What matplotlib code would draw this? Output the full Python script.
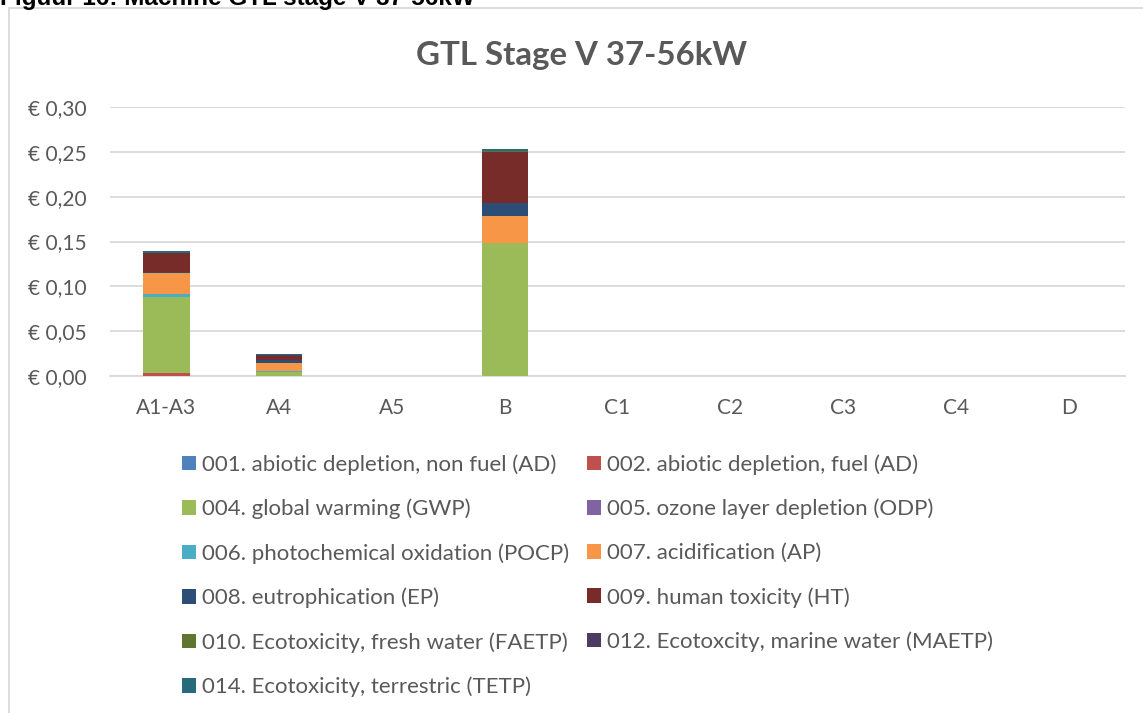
import matplotlib
matplotlib.use('Agg')
import matplotlib.pyplot as plt
from matplotlib.patches import Patch, Rectangle
import numpy as np

categories = ['A1-A3', 'A4', 'A5', 'B', 'C1', 'C2', 'C3', 'C4', 'D']

series_names = [
    '001. abiotic depletion, non fuel (AD)',
    '002. abiotic depletion, fuel (AD)',
    '004. global warming (GWP)',
    '005. ozone layer depletion (ODP)',
    '006. photochemical oxidation (POCP)',
    '007. acidification (AP)',
    '008. eutrophication (EP)',
    '009. human toxicity (HT)',
    '010. Ecotoxicity, fresh water (FAETP)',
    '012. Ecotoxcity, marine water (MAETP)',
    '014. Ecotoxicity, terrestric (TETP)',
]

abiotic_non_fuel = [0.0003, 0.0, 0, 0.0, 0, 0, 0, 0, 0]
abiotic_fuel = [0.003, 0.0005, 0, 0.0, 0, 0, 0, 0, 0]
global_warming = [0.085, 0.0045, 0, 0.148, 0, 0, 0, 0, 0]
ozone = [0.0, 0.0, 0, 0.0, 0, 0, 0, 0, 0]
photochem = [0.003, 0.0003, 0, 0.0005, 0, 0, 0, 0, 0]
acidification = [0.0235, 0.009, 0, 0.030, 0, 0, 0, 0, 0]
eutrophication = [0.0015, 0.003, 0, 0.0145, 0, 0, 0, 0, 0]
human_tox = [0.0205, 0.005, 0, 0.057, 0, 0, 0, 0, 0]
eco_fresh = [0.0003, 0.0002, 0, 0.001, 0, 0, 0, 0, 0]
eco_marine = [0.0005, 0.0005, 0, 0.0003, 0, 0, 0, 0, 0]
eco_terr = [0.0015, 0.0015, 0, 0.002, 0, 0, 0, 0, 0]

series_values = [abiotic_non_fuel, abiotic_fuel, global_warming, ozone, photochem,
                 acidification, eutrophication, human_tox, eco_fresh, eco_marine, eco_terr]

colors = ['#4F81BD', '#C0504D', '#9BBB59', '#8064A2', '#4BACC6', '#F79646',
          '#2C4D75', '#772C2A', '#5F7530', '#4D3B62', '#276A7C']

yticks = [0.0, 0.05, 0.10, 0.15, 0.20, 0.25, 0.30]
ytick_labels = ['€ 0,00', '€ 0,05', '€ 0,10', '€ 0,15', '€ 0,20', '€ 0,25', '€ 0,30']

TXT = '#595959'
GRID = '#D9D9D9'
W, H = 1143, 713

fig = plt.figure(figsize=(W / 100, H / 100), dpi=100)

# chart frame (partly cut off at right and bottom)
fig.patches.append(Rectangle((9 / W, -0.05), 1.2, 1 - 8 / H + 0.05, transform=fig.transFigure,
                             fill=False, edgecolor=GRID, lw=1.3))

# caption, clipped at top of the page
fig.text(0.0, 1 - 5 / H, 'Figuur 16: Machine GTL stage V 37-56kW', fontsize=17.5,
         fontweight='bold', family='Liberation Sans', va='baseline', ha='left')

ax = fig.add_axes([110 / W, 1 - 376 / H, 1015 / W, 269 / H])
x = np.arange(len(categories))
bottom = np.zeros(len(categories))
for vals, c in zip(series_values, colors):
    ax.bar(x, vals, width=0.41, bottom=bottom, color=c, zorder=3)
    bottom += np.array(vals)

ax.set_xlim(-0.5, len(categories) - 0.5)
ax.set_ylim(0, 0.30)
ax.set_yticks(yticks)
ax.set_yticklabels(ytick_labels)
ax.set_xticks(x)
ax.set_xticklabels(categories)
ax.tick_params(length=0, colors=TXT, labelsize=15)
ax.tick_params(axis='x', pad=16)
ax.tick_params(axis='y', pad=16.5)
for lab in ax.get_xticklabels() + ax.get_yticklabels():
    lab.set_family('Lato')
ax.yaxis.grid(True, color=GRID, lw=1.3, zorder=0)
for s in ax.spines.values():
    s.set_visible(False)
ax.spines['bottom'].set_visible(True)
ax.spines['bottom'].set_color(GRID)
ax.spines['bottom'].set_linewidth(1.3)

fig.text(582 / W, 1 - 55 / H, 'GTL Stage V 37-56kW', ha='center', va='center',
         fontsize=23.8, fontweight='bold', color=TXT, family='Lato')

# legend in row-major order
handles = [Patch(facecolor=c) for c in colors]
order = [0, 2, 4, 6, 8, 10, 1, 3, 5, 7, 9]
leg = fig.legend([handles[i] for i in order], [series_names[i] for i in order],
                 ncol=2, frameon=False, loc='upper left',
                 bbox_to_anchor=(171 / W, 1 - 443 / H), borderpad=0,
                 prop={'family': 'Lato', 'size': 16},
                 handlelength=0.63, handleheight=0.63, handletextpad=0.27,
                 labelspacing=1.075, columnspacing=0.8)
for t in leg.get_texts():
    t.set_color(TXT)

fig.savefig('out.png', dpi=100)
